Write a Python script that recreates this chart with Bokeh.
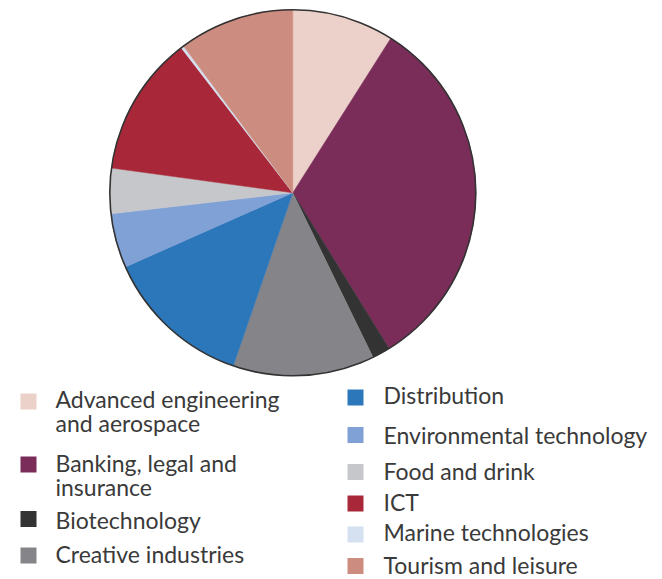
import numpy as np
from bokeh.plotting import figure
from bokeh.models import Range1d, ColumnDataSource
from bokeh.core.properties import value
from bokeh.embed import file_html
from bokeh.resources import INLINE

# ---- data ----
categories = [
    "Advanced engineering\nand aerospace",
    "Banking, legal and\ninsurance",
    "Biotechnology",
    "Creative industries",
    "Distribution",
    "Environmental technology",
    "Food and drink",
    "ICT",
    "Marine technologies",
    "Tourism and leisure",
]
shares = [9.0, 32.2, 1.6, 12.5, 13.1, 4.8, 4.0, 12.4, 0.25, 10.2]
colors = ["#EBD1C9", "#7B2D5A", "#333333", "#858489", "#2C76BA",
          "#80A1D6", "#C6C7CA", "#A82839", "#D5E0F0", "#CC8C7F"]

# ---- layout ----
W, H = 662, 579
def fy(y_px):  # screenshot pixel y -> data y (y up)
    return H - y_px
def fx(x_px):
    return x_px

cx, cy, R = fx(292.3), fy(192.3), 183

p = figure(width=W, height=H, output_backend="svg", toolbar_location=None,
           x_axis_location=None, y_axis_location=None, min_border=0,
           x_range=Range1d(0, W), y_range=Range1d(0, H))
p.grid.visible = False
p.outline_line_color = None
p.background_fill_color = "white"
p.border_fill_color = "white"

vals = np.array(shares, dtype=float)
frac = vals / vals.sum()
cum_end = np.cumsum(frac) * 2 * np.pi
cum_start = cum_end - frac * 2 * np.pi
src = ColumnDataSource(dict(
    start=np.pi / 2 - cum_end,
    end=np.pi / 2 - cum_start,
    color=colors,
))
p.wedge(x=cx, y=cy, radius=R, start_angle="start", end_angle="end",
        fill_color="color", line_color="color", line_width=0.5, source=src)
p.circle(x=cx, y=cy, radius=R, fill_color=None, line_color="#333333", line_width=1.6)

# legend layout (px): square centre y, first baseline y
left_items = [0, 1, 2, 3]
sq_y = [401, 464, 518.5, 555, 397, 434.5, 471.5, 503, 534, 565.5]
base_y = [407, 471, 528, 562, 403, 443, 479, 510, 540, 573]
text_shift = -9
sq_x = {"L": 28, "R": 355}
tx_x = {"L": 55, "R": 383}
line_gap = 24.5

rx, ry, rc = [], [], []
tx, ty, tt = [], [], []
for i, cat in enumerate(categories):
    col = "L" if i in left_items else "R"
    rx.append(fx(sq_x[col])); ry.append(fy(sq_y[i])); rc.append(colors[i])
    for k, line in enumerate(cat.split("\n")):
        tx.append(fx(tx_x[col]))
        ty.append(fy(base_y[i] + text_shift + k * line_gap))
        tt.append(line)

p.rect(x=rx, y=ry, width=16, height=16, fill_color=rc, line_color=None)
p.text(x=tx, y=ty, text=tt, text_font=value("Lato"), text_font_size="23px",
       text_color="#3a3a3a", text_baseline="alphabetic", text_align="left")

open("out.html", "w").write(file_html(p, INLINE))
